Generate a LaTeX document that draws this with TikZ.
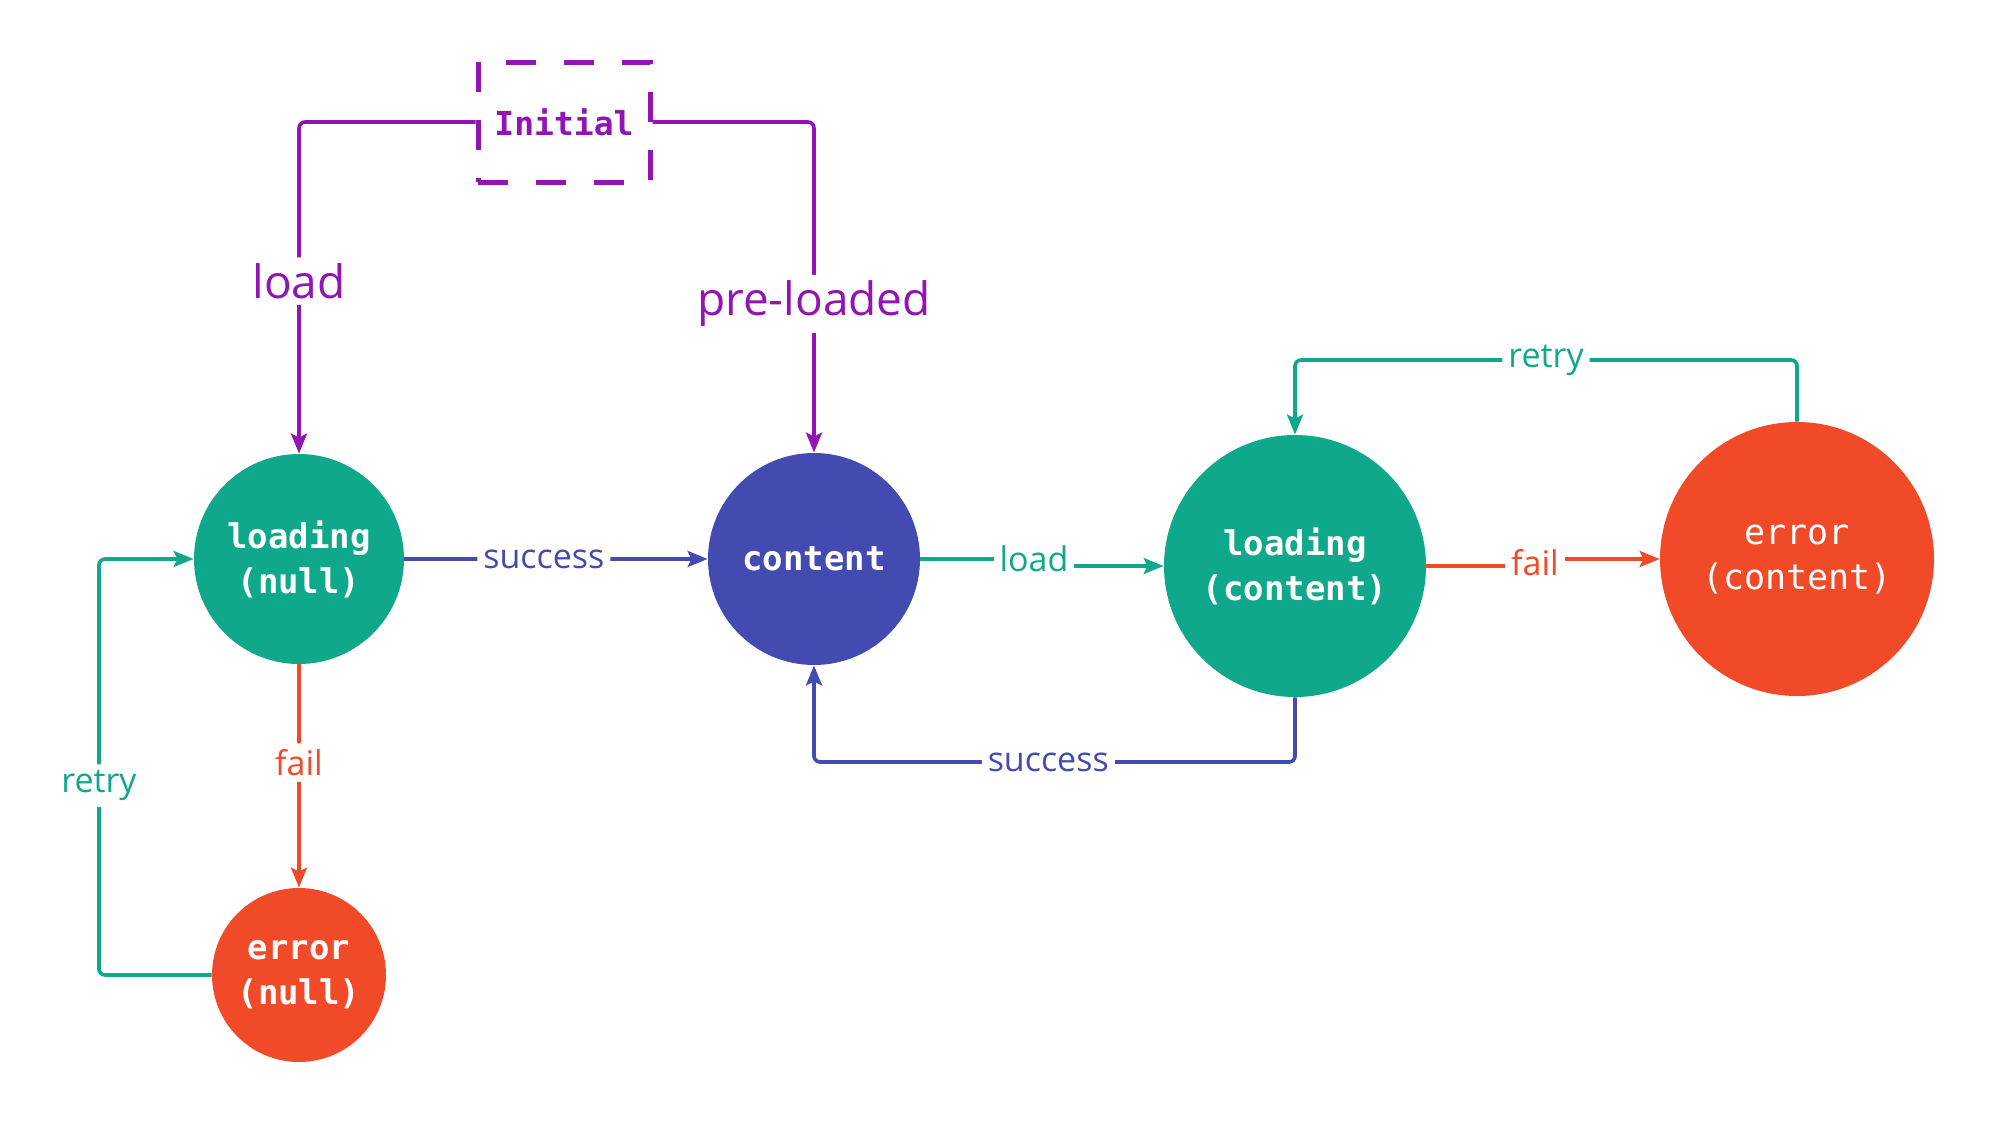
\documentclass[tikz,border=0pt]{standalone}
\usepackage{fontspec}
\setmainfont{Open Sans}
\setmonofont{DejaVu Sans Mono}
\usetikzlibrary{arrows.meta}
\definecolor{stgreen}{HTML}{10A88A}
\definecolor{stblue}{HTML}{434BB1}
\definecolor{stred}{HTML}{F04A28}
\definecolor{stpurple}{HTML}{9314B4}
\tikzset{
  stnode/.style={circle,fill=#1,text=white,align=center,inner sep=0pt,
    font=\ttfamily\bfseries\fontsize{17}{22.5}\selectfont},
  trans/.style={draw=#1,line width=1.8pt,rounded corners=3pt,
    -{Stealth[length=10pt,width=8pt,inset=2pt]}},
  lbl/.style={fill=white,inner sep=3pt,text=#1,font=\fontsize{17}{20}\selectfont},
  biglbl/.style={lbl=#1,font=\fontsize{23}{27}\selectfont}
}
\begin{document}
\begin{tikzpicture}[x=0.5pt,y=-0.5pt]
  \useasboundingbox (0,0) rectangle (2001,1124);
  % states
  \node[draw=stpurple,line width=2.5pt,dash pattern=on 15pt off 14pt,
        minimum width=86pt,minimum height=60pt,text=stpurple,
        font=\ttfamily\bfseries\fontsize{16.5}{20}\selectfont] (init) at (564,122) {Initial};
  \node[stnode=stgreen,minimum size=105pt] (ln) at (299,559) {loading\\(null)};
  \node[stnode=stblue,minimum size=106pt] (ct) at (814,559) {content};
  \node[stnode=stgreen,minimum size=131pt] (lc) at (1295,566) {loading\\(content)};
  \node[stnode=stred,minimum size=137pt,font=\ttfamily\fontsize{17.5}{22.5}\selectfont] (ec) at (1797,559) {error\\(content)};
  \node[stnode=stred,minimum size=87pt] (en) at (299,975) {error\\(null)};
  % helper coordinates for the bent lines
  \coordinate (rtop) at (0,360);
  \coordinate (sbot) at (0,762);
  \coordinate (rleft) at (99,0);
  \coordinate (ldmid) at (1034,559);
  \coordinate (flmid) at (1535,563);
  % transitions
  \draw[trans=stpurple] (init.west) -| node[biglbl=stpurple,pos=0.74]{load} (ln.north);
  \draw[trans=stpurple] (init.east) -| node[biglbl=stpurple,pos=0.775]{pre-loaded} (ct.north);
  \draw[trans=stblue] (ln) -- node[lbl=stblue,pos=0.46]{success} (ct);
  \draw[trans=stgreen,sharp corners] (ct.east) -- (ct.east -| ldmid) |- (lc.west);
  \node[lbl=stgreen] at (ldmid) {load};
  \draw[trans=stred,sharp corners] (lc.east) -- (lc.east -| flmid) |- (ec.west);
  \node[lbl=stred] at (flmid) {fail};
  \draw[trans=stgreen] (ec.north) -- (ec.north |- rtop) -- node[lbl=stgreen]{retry} (lc.north |- rtop) -- (lc.north);
  \draw[trans=stblue] (lc.south) -- (lc.south |- sbot) -- node[lbl=stblue,pos=0.513]{success} (ct.south |- sbot) -- (ct.south);
  \draw[trans=stred] (ln.south) -- node[lbl=stred,pos=0.44]{fail} (en.north);
  \draw[trans=stgreen] (en.west) -- (en.west -| rleft) -- node[lbl=stgreen,pos=0.455]{retry} (ln.west -| rleft) -- (ln.west);
\end{tikzpicture}
\end{document}
